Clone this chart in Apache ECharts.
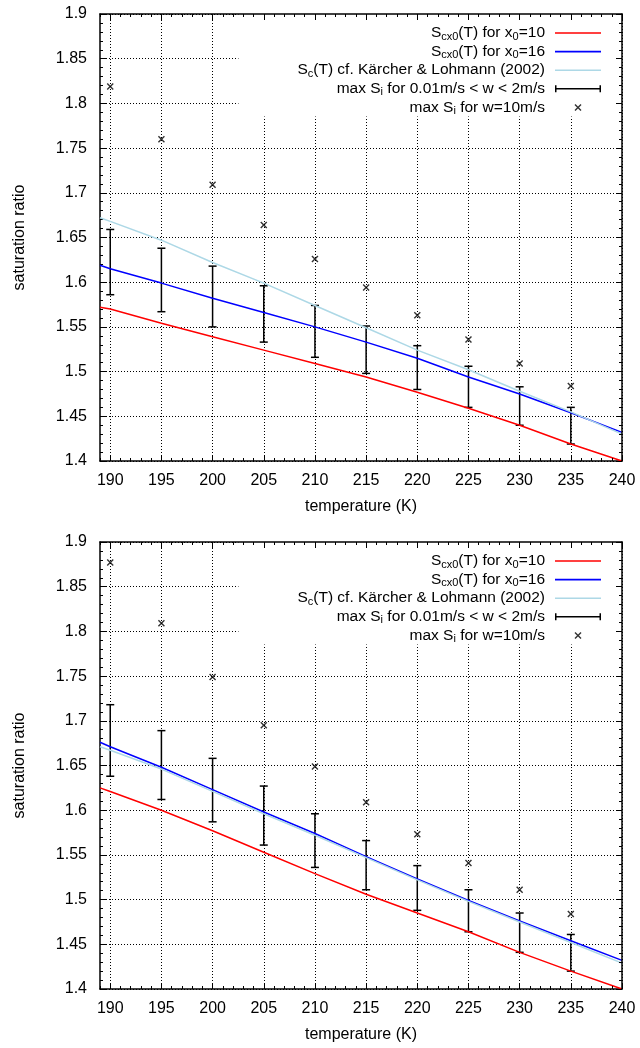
<!DOCTYPE html>
<html><head><meta charset="utf-8">
<script src="https://cdn.jsdelivr.net/npm/echarts@6/dist/echarts.min.js"></script>
<style>html,body{margin:0;padding:0;background:#fff}#c{width:640px;height:1048px}</style>
</head><body><div id="c"></div>
<script>
// ---- data ----
const lineTemps = [189, 190, 195, 200, 205, 210, 215, 220, 225, 230, 235, 240];
const barTemps = [190, 195, 200, 205, 210, 215, 220, 225, 230, 235];
const xTickValues = [190, 195, 200, 205, 210, 215, 220, 225, 230, 235, 240];

// upper panel
const redTop = [1.572, 1.570, 1.554, 1.539, 1.524, 1.509, 1.494, 1.477, 1.459, 1.440, 1.419, 1.400];
const blueTop = [1.619, 1.615, 1.599, 1.582, 1.566, 1.550, 1.533, 1.515, 1.494, 1.475, 1.454, 1.432];
const lightTop = [1.672, 1.668, 1.647, 1.622, 1.599, 1.574, 1.549, 1.524, 1.502, 1.478, 1.455, 1.430];
const lowTop = [1.586, 1.567, 1.550, 1.533, 1.516, 1.498, 1.480, 1.460, 1.440, 1.419];
const highTop = [1.659, 1.638, 1.618, 1.596, 1.574, 1.551, 1.529, 1.506, 1.483, 1.460];
const ptsTop = [1.819, 1.760, 1.709, 1.664, 1.626, 1.594, 1.563, 1.536, 1.509, 1.484];

// lower panel
const redBot = [1.625, 1.621, 1.600, 1.577, 1.553, 1.529, 1.506, 1.485, 1.464, 1.441, 1.420, 1.400];
const blueBot = [1.676, 1.671, 1.648, 1.623, 1.598, 1.574, 1.548, 1.523, 1.499, 1.476, 1.454, 1.432];
const lightBot = [1.671, 1.667, 1.646, 1.621, 1.596, 1.572, 1.547, 1.522, 1.498, 1.475, 1.452, 1.429];
const lowBot = [1.638, 1.612, 1.587, 1.561, 1.536, 1.511, 1.488, 1.464, 1.441, 1.420];
const highBot = [1.718, 1.689, 1.658, 1.627, 1.596, 1.566, 1.538, 1.511, 1.485, 1.461];
const ptsBot = [1.877, 1.809, 1.749, 1.695, 1.649, 1.609, 1.573, 1.541, 1.511, 1.484];

const seriesNames = ['sx10', 'sx16', 'skl', 'errbar', 'w10'];
const legendTexts = [
  'S{sub|cx0}(T) for x{sub|0}=10{gap|}',
  'S{sub|cx0}(T) for x{sub|0}=16{gap|}',
  'S{sub|c}(T) cf. Kärcher & Lohmann (2002){gap|}',
  'max S{sub|i} for 0.01m/s < w < 2m/s{gap|}',
  'max S{sub|i} for w=10m/s{gap|}'
];
const xName = 'temperature (K)';
const yName = 'saturation ratio';

// ---- build ----
const FONT = '"Liberation Sans", Arial, Helvetica, sans-serif';
const crossPath = 'path://M0,1L1,0L3.5,2.5L6,0L7,1L4.5,3.5L7,6L6,7L3.5,4.5L1,7L0,6L2.5,3.5Z';
const errIcon = 'path://M0,0h1.5v7h-1.5zM0,2.8h46v1.4h-46zM44.5,0h1.5v7h-1.5z';
const lineIcon = 'path://M0,0h46v1.6h-46z';
const grids = [{left: 100, right: 18, top: 14, height: 447}, {left: 100, right: 18, top: 542, height: 447}];
const axisLine = {show: true, lineStyle: {color: '#000', width: 1.5}};
const dotted = {show: true, lineStyle: {color: '#000', width: 1, type: [1, 2]}};

const xAxes = [], yAxes = [], series = [], legends = [];
const zip = (xs, ys) => xs.map((x, i) => [x, ys[i]]);

const panels = [
  {red: redTop, blue: blueTop, light: lightTop, lo: lowTop, hi: highTop, pts: ptsTop},
  {red: redBot, blue: blueBot, light: lightBot, lo: lowBot, hi: highBot, pts: ptsBot}
];

panels.forEach((p, g) => {
  const base = {type: 'value', gridIndex: g, min: 189, max: 240};
  xAxes.push(Object.assign({}, base, {
    position: 'bottom', axisLine,
    axisTick: {inside: true, length: 6, customValues: xTickValues, lineStyle: {color: '#000', width: 1}},
    axisLabel: {customValues: xTickValues, fontSize: 16, color: '#000', fontFamily: FONT, margin: 12},
    splitLine: dotted,
    name: xName, nameLocation: 'middle', nameGap: 38,
    nameTextStyle: {fontSize: 16, color: '#000', fontFamily: FONT}
  }));
  xAxes.push(Object.assign({}, base, {
    position: 'bottom', interval: 1, z: 10, axisLine: {show: false},
    axisTick: {inside: true, length: 3, lineStyle: {color: '#000', width: 1}},
    axisLabel: {show: false}, splitLine: {show: false}
  }));
  xAxes.push(Object.assign({}, base, {
    position: 'top', z: 10, axisLine,
    axisTick: {inside: true, length: 6, customValues: xTickValues, lineStyle: {color: '#000', width: 1}},
    axisLabel: {show: false}, splitLine: {show: false}
  }));
  xAxes.push(Object.assign({}, base, {
    position: 'top', interval: 1, z: 10, axisLine: {show: false},
    axisTick: {inside: true, length: 3, lineStyle: {color: '#000', width: 1}},
    axisLabel: {show: false}, splitLine: {show: false}
  }));
  const ybase = {type: 'value', gridIndex: g, min: 1.4, max: 1.9, interval: 0.05};
  yAxes.push(Object.assign({}, ybase, {
    position: 'left', axisLine,
    axisTick: {inside: true, length: 6, lineStyle: {color: '#000', width: 1}},
    minorTick: {show: true, splitNumber: 5, length: 3, lineStyle: {color: '#000', width: 1}},
    axisLabel: {fontSize: 16, color: '#000', fontFamily: FONT, margin: 13,
      formatter: v => String(+v.toFixed(2))},
    splitLine: dotted,
    name: yName, nameLocation: 'middle', nameGap: 72,
    nameTextStyle: {fontSize: 16, color: '#000', fontFamily: FONT}
  }));
  yAxes.push(Object.assign({}, ybase, {
    position: 'right', z: 10, axisLine,
    axisTick: {inside: true, length: 6, lineStyle: {color: '#000', width: 1}},
    minorTick: {show: true, splitNumber: 5, length: 3, lineStyle: {color: '#000', width: 1}},
    axisLabel: {show: false}, splitLine: {show: false}
  }));

  const xi = 4 * g, yi = 2 * g;
  const lineSeries = (name, ys, color) => ({
    name, type: 'line', xAxisIndex: xi, yAxisIndex: yi, data: zip(lineTemps, ys),
    symbol: 'none', smooth: false, silent: true, animation: false, clip: true,
    itemStyle: {color}, lineStyle: {color, width: 1.5}
  });
  series.push(lineSeries(seriesNames[0], p.red, '#ff0000'));
  series.push(lineSeries(seriesNames[1], p.blue, '#0000ff'));
  series.push(lineSeries(seriesNames[2], p.light, '#add8e6'));
  series.push({
    name: seriesNames[3], type: 'custom', xAxisIndex: xi, yAxisIndex: yi, animation: false,
    itemStyle: {color: '#000'},
    encode: {x: 0, y: [1, 2]},
    data: barTemps.map((t, i) => [t, p.lo[i], p.hi[i]]),
    renderItem(params, api) {
      const x = api.value(0);
      const a = api.coord([x, api.value(1)]), b = api.coord([x, api.value(2)]);
      const w = 4;
      const st = {stroke: '#000', lineWidth: 1.5, fill: null};
      return {type: 'group', children: [
        {type: 'line', shape: {x1: a[0], y1: a[1], x2: b[0], y2: b[1]}, style: st},
        {type: 'line', shape: {x1: a[0] - w, y1: a[1], x2: a[0] + w, y2: a[1]}, style: st},
        {type: 'line', shape: {x1: b[0] - w, y1: b[1], x2: b[0] + w, y2: b[1]}, style: st}
      ]};
    }
  });
  series.push({
    name: seriesNames[4], type: 'scatter', xAxisIndex: xi, yAxisIndex: yi, animation: false,
    data: zip(barTemps, p.pts), symbol: crossPath, symbolSize: 7, itemStyle: {color: '#000'}
  });

  legends.push({
    orient: 'vertical', align: 'right', right: 18, top: grids[g].top,
    padding: [10, 21, 0, 59], backgroundColor: '#fff',
    itemWidth: 46, itemHeight: 7, itemGap: 0.6,
    selectedMode: false,
    itemStyle: {borderWidth: 0},
    data: [
      {name: seriesNames[0], icon: lineIcon}, {name: seriesNames[1], icon: lineIcon},
      {name: seriesNames[2], icon: lineIcon},
      {name: seriesNames[3], icon: errIcon}, {name: seriesNames[4], icon: crossPath}
    ],
    formatter: n => legendTexts[seriesNames.indexOf(n)],
    textStyle: {fontSize: 15.5, color: '#000', fontFamily: FONT, lineHeight: 18,
      rich: {sub: {fontSize: 11, lineHeight: 9, verticalAlign: 'bottom', fontFamily: FONT, color: '#000'},
             gap: {width: 5}}}
  });
});

const chart = echarts.init(document.getElementById('c'), null, {renderer: 'canvas'});
chart.setOption({
  animation: false,
  backgroundColor: '#fff',
  grid: grids,
  xAxis: xAxes, yAxis: yAxes, series, legend: legends
});
</script></body></html>
